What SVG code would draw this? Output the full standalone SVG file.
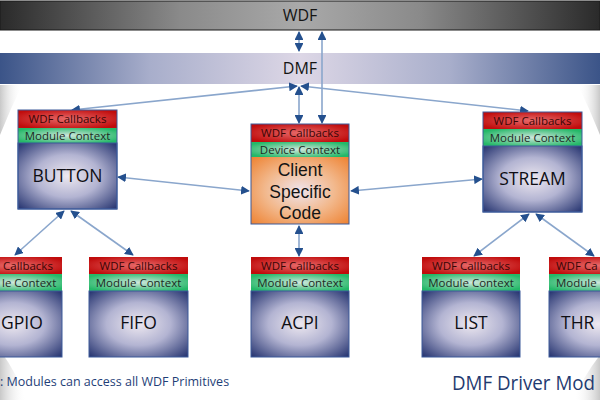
<svg xmlns="http://www.w3.org/2000/svg" width="600" height="400" viewBox="0 0 600 400">
<defs>
<linearGradient id="gWdf" x1="0" y1="0" x2="1" y2="0">
<stop offset="0" stop-color="#2a2a2a"/><stop offset="0.3" stop-color="#8a8a8a"/><stop offset="0.5" stop-color="#a9a9a9"/><stop offset="0.7" stop-color="#8a8a8a"/><stop offset="1" stop-color="#2a2a2a"/>
</linearGradient>
<linearGradient id="gDmf" x1="0" y1="0" x2="1" y2="0">
<stop offset="0" stop-color="#3b5488"/><stop offset="0.25" stop-color="#a8aecb"/><stop offset="0.5" stop-color="#ddd7e6"/><stop offset="0.75" stop-color="#a8aecb"/><stop offset="1" stop-color="#3b5488"/>
</linearGradient>
<radialGradient id="gBody" cx="0.5" cy="0.5" r="0.72">
<stop offset="0" stop-color="#ede8f0"/><stop offset="0.45" stop-color="#b3b4d2"/><stop offset="1" stop-color="#1d2c6a"/>
</radialGradient>
<radialGradient id="gOrange" cx="0.5" cy="0.5" r="0.72">
<stop offset="0" stop-color="#efe4ec"/><stop offset="0.5" stop-color="#f2b88c"/><stop offset="1" stop-color="#ee7f2c"/>
</radialGradient>
<radialGradient id="gRed" cx="0.5" cy="0.5" r="0.6">
<stop offset="0" stop-color="#e86a6a"/><stop offset="1" stop-color="#c00c0c"/>
</radialGradient>
<radialGradient id="gGreen" cx="0.5" cy="0.5" r="0.6">
<stop offset="0" stop-color="#cfe6dc"/><stop offset="1" stop-color="#24b868"/>
</radialGradient>
<linearGradient id="gShadeL" x1="0" y1="0" x2="1" y2="0">
<stop offset="0" stop-color="#c8c8c8"/><stop offset="1" stop-color="#ffffff" stop-opacity="0"/>
</linearGradient>
<linearGradient id="gShadeR" x1="1" y1="0" x2="0" y2="0">
<stop offset="0" stop-color="#c8c8c8"/><stop offset="1" stop-color="#ffffff" stop-opacity="0"/>
</linearGradient>
<marker id="ah" viewBox="0 0 10 10" refX="9" refY="5" markerWidth="5.5" markerHeight="5.5" orient="auto-start-reverse" markerUnits="strokeWidth">
<path d="M0,0 L10,5 L0,10 z" fill="#24508e"/>
</marker>
</defs>
<style>
.t{font-family:"Open Sans","Liberation Sans",sans-serif;text-anchor:middle}
.s{font-family:"Open Sans","Liberation Sans",sans-serif}
.bar{font-size:16px;fill:#141414}
.cb{font-size:11.5px;fill:#3a0606}
.mc{font-size:11.5px;fill:#1e2a24}
.name{font-size:17.5px;fill:#0e0e14}
.big{font-family:"Liberation Sans",sans-serif;text-anchor:middle;font-size:17.5px;fill:#141414}
.body{fill:url(#gBody);stroke:#3d5a9a;stroke-width:1}
.red{fill:url(#gRed)}
.green{fill:url(#gGreen)}
.conn line{stroke:#8aa6cc;stroke-width:1.6;marker-start:url(#ah);marker-end:url(#ah)}
</style>
<rect width="600" height="400" fill="#ffffff"/>
<path d="M0,85 L22,85 Q10,110 0,135 z" fill="url(#gShadeL)"/>
<path d="M600,85 L578,85 Q590,110 600,135 z" fill="url(#gShadeR)"/>
<path d="M0,350 Q18,375 26,400 L0,400 z" fill="url(#gShadeL)"/>
<path d="M600,355 Q582,378 574,400 L600,400 z" fill="url(#gShadeR)"/>

<g id="wdf">
<rect x="0" y="1" width="600" height="29" fill="url(#gWdf)" stroke="#1a1a1a" stroke-width="1"/>
<text class="t bar" x="300" y="21">WDF</text>
</g>
<g id="dmf">
<rect x="0" y="53" width="600" height="31" fill="url(#gDmf)"/>
<text class="t bar" x="300" y="74">DMF</text>
</g>

<g class="conn">
<line x1="299" y1="32" x2="299" y2="51"/>
<line x1="322" y1="123" x2="322" y2="32"/>
<line x1="299" y1="87" x2="299" y2="123"/>
<line x1="297" y1="86" x2="72" y2="110"/>
<line x1="301" y1="86" x2="528" y2="111"/>
<line x1="118" y1="177" x2="249" y2="191"/>
<line x1="351" y1="191" x2="482" y2="179"/>
<line x1="64" y1="211" x2="15" y2="255"/>
<line x1="71" y1="211" x2="133" y2="255"/>
<line x1="299" y1="226" x2="299" y2="256"/>
<line x1="529" y1="214" x2="474" y2="256"/>
<line x1="536" y1="214" x2="594" y2="256"/>
</g>

<g id="button">
<rect class="red" x="18" y="110" width="99" height="18"/>
<rect class="green" x="18" y="128" width="99" height="15"/>
<rect class="body" x="18" y="143" width="99" height="66"/>
<rect x="18" y="110" width="99" height="99" fill="none" stroke="#3d5a9a" stroke-width="1"/>
<text class="t cb" x="67.5" y="123">WDF Callbacks</text>
<text class="t mc" x="67.5" y="139.5">Module Context</text>
<text class="t name" x="67.5" y="182">BUTTON</text>
</g>

<g id="client">
<rect class="red" x="251" y="124" width="98" height="18"/>
<rect class="green" x="251" y="142" width="98" height="15"/>
<rect x="251" y="157" width="98" height="67" fill="url(#gOrange)"/>
<rect x="251" y="124" width="98" height="100" fill="none" stroke="#3d5a9a" stroke-width="1"/>
<text class="t cb" x="300" y="137">WDF Callbacks</text>
<text class="t mc" x="300" y="153.5">Device Context</text>
<text class="big" x="300" y="176">Client</text>
<text class="big" x="300" y="198">Specific</text>
<text class="big" x="300" y="219">Code</text>
</g>

<g id="stream">
<rect class="red" x="483" y="112" width="99" height="17"/>
<rect class="green" x="483" y="129" width="99" height="17"/>
<rect class="body" x="483" y="146" width="99" height="66"/>
<rect x="483" y="112" width="99" height="100" fill="none" stroke="#3d5a9a" stroke-width="1"/>
<text class="t cb" x="532.5" y="124.5">WDF Callbacks</text>
<text class="t mc" x="532.5" y="141.5">Module Context</text>
<text class="t name" x="532.5" y="185">STREAM</text>
</g>

<g id="gpio">
<rect class="red" x="-36" y="257" width="98" height="17"/>
<rect class="green" x="-36" y="274" width="98" height="17"/>
<rect class="body" x="-36" y="291" width="98" height="66"/>
<text class="s cb" x="3" y="269.5">Callbacks</text>
<text class="s mc" x="2" y="286.5">le Context</text>
<text class="s name" x="1" y="329">GPIO</text>
</g>

<g id="fifo">
<rect class="red" x="89" y="257" width="99" height="17"/>
<rect class="green" x="89" y="274" width="99" height="17"/>
<rect class="body" x="89" y="291" width="99" height="66"/>
<text class="t cb" x="138.5" y="269.5">WDF Callbacks</text>
<text class="t mc" x="138.5" y="286.5">Module Context</text>
<text class="t name" x="138.5" y="329">FIFO</text>
</g>

<g id="acpi">
<rect class="red" x="251" y="257" width="98" height="17"/>
<rect class="green" x="251" y="274" width="98" height="17"/>
<rect class="body" x="251" y="291" width="98" height="66"/>
<text class="t cb" x="300" y="269.5">WDF Callbacks</text>
<text class="t mc" x="300" y="286.5">Module Context</text>
<text class="t name" x="300" y="329">ACPI</text>
</g>

<g id="list">
<rect class="red" x="422" y="257" width="98" height="17"/>
<rect class="green" x="422" y="274" width="98" height="17"/>
<rect class="body" x="422" y="291" width="98" height="66"/>
<text class="t cb" x="471" y="269.5">WDF Callbacks</text>
<text class="t mc" x="471" y="286.5">Module Context</text>
<text class="t name" x="471" y="329">LIST</text>
</g>

<g id="thread">
<rect class="red" x="549" y="257" width="98" height="17"/>
<rect class="green" x="549" y="274" width="98" height="17"/>
<rect class="body" x="549" y="291" width="98" height="66"/>
<text class="s cb" x="556" y="269.5">WDF Ca</text>
<text class="s mc" x="556" y="286.5">Module</text>
<text class="s name" x="561" y="329">THR</text>
</g>

<text class="s" x="0" y="386" style="font-size:12.5px;fill:#1f3f78">: Modules can access all WDF Primitives</text>
<text class="s" x="452" y="390" textLength="143" lengthAdjust="spacingAndGlyphs" style="font-size:19.5px;fill:#1f3a70">DMF Driver Mod</text>
</svg>
